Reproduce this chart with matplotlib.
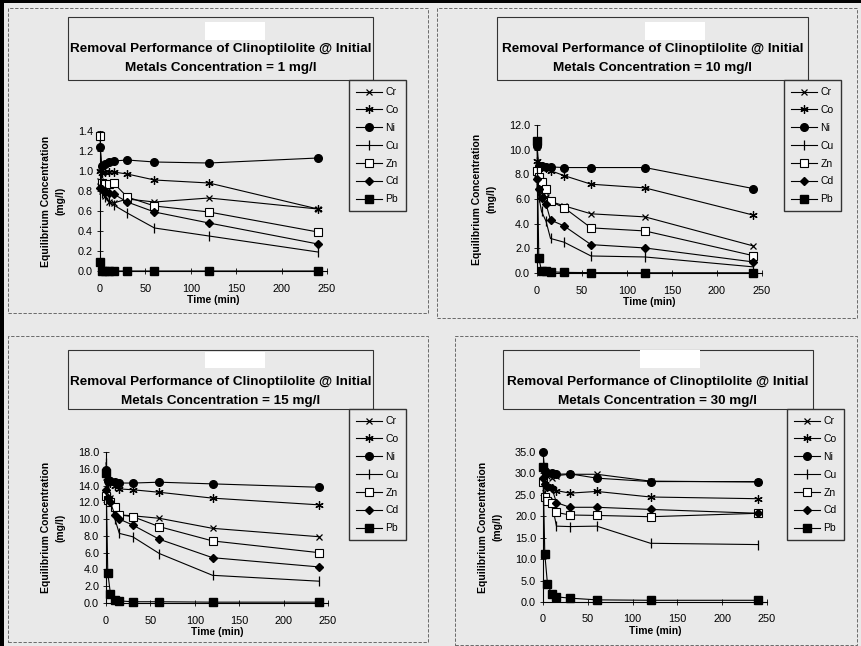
import matplotlib
matplotlib.use('Agg')
import matplotlib.pyplot as plt
from matplotlib.patches import Rectangle
from matplotlib.ticker import FormatStrFormatter, MultipleLocator

W, H = 861, 646
fundo = '#e9e9e9'

# tempos de coleta (min)
tempo = [0, 2, 5, 10, 15, 30, 60, 120, 240]
metais = ['Cr', 'Co', 'Ni', 'Cu', 'Zn', 'Cd', 'Pb']

# concentracao inicial = 1 mg/l
cr_1 = [0.90, 0.80, 0.75, 0.69, 0.68, 0.72, 0.69, 0.73, 0.62]
co_1 = [1.00, 0.98, 0.99, 0.99, 0.99, 0.97, 0.91, 0.88, 0.62]
ni_1 = [1.24, 1.05, 1.07, 1.09, 1.10, 1.11, 1.09, 1.08, 1.13]
cu_1 = [0.83, 0.78, 0.74, 0.70, 0.66, 0.58, 0.43, 0.35, 0.19]
zn_1 = [1.35, 0.88, 0.87, 0.87, 0.88, 0.74, 0.65, 0.59, 0.39]
cd_1 = [0.83, 0.82, 0.80, 0.78, 0.77, 0.69, 0.59, 0.48, 0.27]
pb_1 = [0.09, 0.0, 0.0, 0.0, 0.0, 0.0, 0.0, 0.0, 0.0]

# concentracao inicial = 10 mg/l
cr_10 = [8.0, 7.0, 6.6, 6.2, 5.8, 5.45, 4.8, 4.55, 2.2]
co_10 = [9.1, 8.8, 8.6, 8.5, 8.3, 7.9, 7.2, 6.9, 4.7]
ni_10 = [10.3, 8.7, 8.7, 8.6, 8.6, 8.55, 8.55, 8.55, 6.85]
cu_10 = [7.0, 6.2, 5.0, 4.2, 2.8, 2.5, 1.38, 1.3, 0.5]
zn_10 = [8.3, 7.8, 7.4, 6.8, 5.8, 5.3, 3.66, 3.41, 1.41]
cd_10 = [7.6, 6.8, 6.1, 5.6, 4.3, 3.82, 2.3, 2.03, 0.9]
pb_10 = [10.7, 1.2, 0.2, 0.15, 0.1, 0.05, 0.03, 0.02, 0.02]

# concentracao inicial = 15 mg/l
cr_15 = [15.0, 14.5, 12.5, 11.5, 10.5, 10.4, 10.1, 8.9, 7.9]
co_15 = [15.5, 14.8, 14.3, 14.0, 13.6, 13.5, 13.2, 12.5, 11.7]
ni_15 = [15.8, 14.6, 14.5, 14.4, 14.3, 14.3, 14.4, 14.2, 13.8]
cu_15 = [16.7, 14.0, 12.5, 10.0, 8.3, 7.9, 5.9, 3.3, 2.6]
zn_15 = [12.8, 12.3, 12.0, 11.5, 10.5, 10.3, 9.1, 7.4, 6.0]
cd_15 = [13.5, 12.5, 12.0, 10.5, 10.0, 9.3, 7.6, 5.4, 4.3]
pb_15 = [15.5, 3.6, 1.1, 0.3, 0.25, 0.15, 0.15, 0.1, 0.1]

# concentracao inicial = 30 mg/l
cr_30 = [31.5, 30.0, 29.5, 29.0, 29.5, 29.8, 29.8, 28.2, 28.0]
co_30 = [28.5, 27.5, 27.0, 26.5, 26.0, 25.4, 25.8, 24.5, 24.1]
ni_30 = [35.0, 30.5, 30.0, 30.0, 29.8, 29.9, 28.9, 28.1, 28.1]
cu_30 = [26.0, 25.0, 24.0, 23.0, 17.7, 17.6, 17.7, 13.7, 13.4]
zn_30 = [28.0, 24.5, 23.5, 23.0, 20.9, 20.3, 20.2, 19.9, 20.7]
cd_30 = [29.0, 27.5, 26.8, 26.5, 23.2, 22.1, 22.1, 21.6, 20.7]
pb_30 = [31.5, 11.2, 4.2, 1.8, 1.2, 0.9, 0.5, 0.4, 0.4]

estilos = {
    'Cr': dict(marker='x', ms=5, mew=0.9, mfc='black'),
    'Co': dict(marker=(6, 2, 0), ms=6, mew=0.9, mfc='black'),
    'Ni': dict(marker='o', ms=5.5, mfc='black'),
    'Cu': dict(marker='|', ms=7, mew=0.9, mfc='black'),
    'Zn': dict(marker='s', ms=5.5, mfc='white', mew=0.8),
    'Cd': dict(marker='D', ms=3.8, mfc='black'),
    'Pb': dict(marker='s', ms=5.5, mfc='black'),
}

paineis = [
    # conc, series, ymax, ystep, eixo(px), titulo(px), legenda(px), borda(px), branco(px)
    ('1', [cr_1, co_1, ni_1, cu_1, zn_1, cd_1, pb_1], 1.4, 0.2,
     (100, 131, 327, 271), (68, 17, 373, 80), (349, 80), (8, 8, 428, 313), (205, 22, 265, 40)),
    ('10', [cr_10, co_10, ni_10, cu_10, zn_10, cd_10, pb_10], 12.0, 2.0,
     (537, 125, 762, 273), (497, 17, 808, 80), (784, 80), (437, 8, 857, 318), (645, 22, 705, 40)),
    ('15', [cr_15, co_15, ni_15, cu_15, zn_15, cd_15, pb_15], 18.0, 2.0,
     (106, 452, 328, 603), (68, 350, 373, 409), (349, 409), (8, 336, 428, 642), (205, 352, 265, 368)),
    ('30', [cr_30, co_30, ni_30, cu_30, zn_30, cd_30, pb_30], 35.0, 5.0,
     (543, 452, 767, 602), (503, 350, 813, 409), (787, 409), (455, 336, 857, 645), (640, 350, 700, 368)),
]


def frac(x0, y0, x1, y1):
    return [x0 / W, 1 - y1 / H, (x1 - x0) / W, (y1 - y0) / H]


fig = plt.figure(figsize=(W / 100, H / 100), dpi=100, facecolor=fundo)
plt.rcParams['font.family'] = ['Liberation Sans', 'DejaVu Sans']

for conc, series, ymax, ystep, eixo, tit, leg, borda, branco in paineis:
    # borda tracejada do painel
    fig.patches.append(Rectangle((borda[0] / W, 1 - borda[3] / H), (borda[2] - borda[0]) / W,
                                 (borda[3] - borda[1]) / H, transform=fig.transFigure,
                                 fill=False, ls=(0, (4, 2)), lw=0.6, ec='#555555'))
    # caixa do titulo
    fig.patches.append(Rectangle((tit[0] / W, 1 - tit[3] / H), (tit[2] - tit[0]) / W,
                                 (tit[3] - tit[1]) / H, transform=fig.transFigure,
                                 fill=False, lw=0.8, ec='#333333'))
    fig.patches.append(Rectangle((branco[0] / W, 1 - branco[3] / H), (branco[2] - branco[0]) / W,
                                 (branco[3] - branco[1]) / H, transform=fig.transFigure,
                                 fc='white', ec='none'))
    cx = (tit[0] + tit[2]) / 2 / W
    fig.text(cx, 1 - (tit[1] + 32) / H, 'Removal Performance of Clinoptilolite @ Initial',
             ha='center', va='center', fontsize=9.7, fontweight='bold')
    fig.text(cx, 1 - (tit[1] + 51) / H, 'Metals Concentration = ' + conc + ' mg/l',
             ha='center', va='center', fontsize=9.7, fontweight='bold')

    ax = fig.add_axes(frac(*eixo))
    ax.set_facecolor('none')
    linhas = []
    for nome, valores in zip(metais, series):
        l, = ax.plot(tempo, valores, color='black', lw=0.8, mec='black',
                     clip_on=False, label=nome, **estilos[nome])
        linhas.append(l)
    ax.set_xlim(0, 250)
    ax.set_ylim(0, ymax)
    ax.xaxis.set_major_locator(MultipleLocator(50))
    ax.yaxis.set_major_locator(MultipleLocator(ystep))
    ax.yaxis.set_major_formatter(FormatStrFormatter('%.1f'))
    for lado in ['top', 'right']:
        ax.spines[lado].set_visible(False)
    for lado in ['left', 'bottom']:
        ax.spines[lado].set_linewidth(0.8)
    ax.tick_params(direction='inout', length=4, width=0.6, labelsize=7.8, pad=3)
    ax.tick_params(axis='x', pad=7)
    ax.set_xlabel('Time (min)', fontsize=7.5, fontweight='bold', labelpad=1)
    ax.set_ylabel('Equilibrium Concentration\n(mg/l)', fontsize=7.5, fontweight='bold',
                  labelpad=9, linespacing=1.6)

    fig.legend(handles=linhas, loc='upper left', bbox_to_anchor=(leg[0] / W, 1 - leg[1] / H),
               fontsize=7.5, frameon=True, fancybox=False, edgecolor='#333333',
               facecolor=fundo, framealpha=1, borderaxespad=0, borderpad=0.7,
               labelspacing=0.75, handlelength=2.5, handletextpad=0.3)

# bordas pretas da digitalizacao
fig.patches.append(Rectangle((0, 0), 4 / W, 1, transform=fig.transFigure, fc='black', ec='none'))
fig.patches.append(Rectangle((0, 1 - 3 / H), 1, 3 / H, transform=fig.transFigure, fc='black', ec='none'))

fig.savefig('out.png', dpi=100, facecolor=fundo)
